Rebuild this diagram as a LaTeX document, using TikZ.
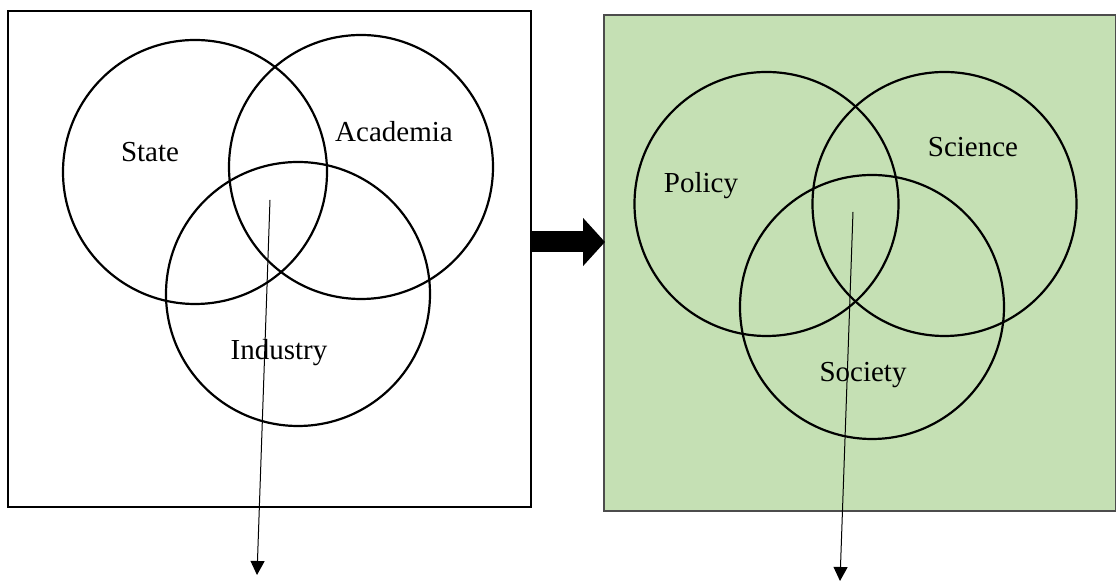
\documentclass[tikz,border=0pt]{standalone}
\usepackage{fontspec}
\setmainfont{Liberation Serif}
\usetikzlibrary{arrows.meta}
\definecolor{leafgreen}{HTML}{C5E0B4}
\tikzset{ring/.style={draw, circle, line width=1.1pt, minimum size=132pt, inner sep=0pt},
  lbl/.style={font=\fontsize{14.5}{17}\selectfont}}
\begin{document}
\begin{tikzpicture}[x=0.5pt, y=-0.5pt]
\useasboundingbox (0,0) rectangle (1116,581);
\draw[line width=0.75pt] (8,11) rectangle (531,507);
\draw[fill=leafgreen, draw=black!70, line width=0.75pt] (604,15) rectangle (1115.5,511);
\draw(195,172) node[ring] (state) {};
\draw(361,167) node[ring] (academia) {};
\draw(298,294) node[ring] (industry) {};
\draw(766.5,204) node[ring] (policy) {};
\draw(944.5,204) node[ring] (science) {};
\draw(872,307) node[ring] (society) {};
\draw(150,152) node[lbl] {State};
\draw(394,132) node[lbl] {Academia};
\draw(279,353) node[lbl] {Industry};
\draw(701,186) node[lbl] {Policy};
\draw(973,147) node[lbl] {Science};
\draw(863,375) node[lbl] {Society};
\coordinate (a) at (531,242); \coordinate (b) at (605,242);
\draw[line width=10.5pt, -{Triangle[width=23.5pt,length=11pt]}] (a) -- (b);
\coordinate (c1) at (270,200); \coordinate (c2) at (257,575);
\coordinate (d1) at (853,212); \coordinate (d2) at (840,581);
\foreach \s/\t in {c1/c2, d1/d2}
  \draw[line width=0.5pt, -{Triangle[width=7pt,length=7pt]}] (\s) -- (\t);
\end{tikzpicture}
\end{document}
